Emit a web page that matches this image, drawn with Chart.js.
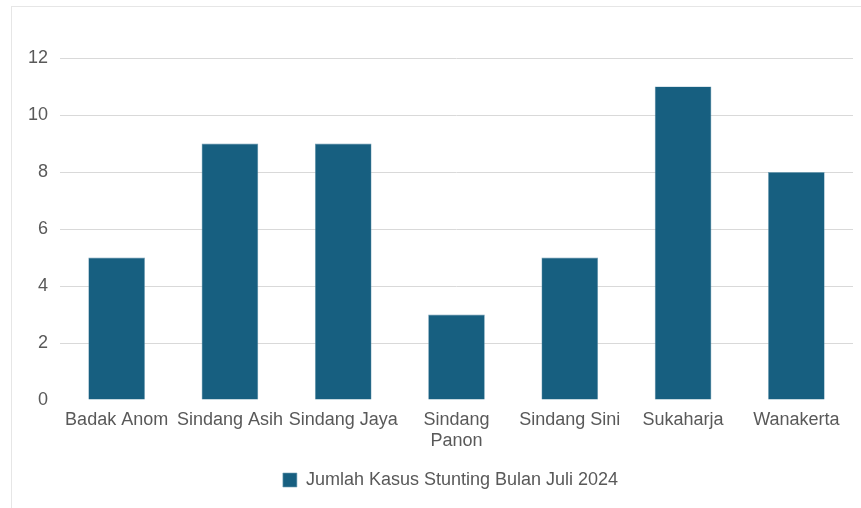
<!DOCTYPE html>
<html>
<head>
<meta charset="utf-8">
<script src="https://cdn.jsdelivr.net/npm/chart.js@4.4.0/dist/chart.umd.min.js"></script>
<style>
html,body{margin:0;padding:0;background:#fff;}
#wrap{position:absolute;left:0;top:0;width:861px;height:508px;}
#frame{position:absolute;left:11px;top:6px;width:860px;height:510px;border:1px solid #e6e6e6;box-sizing:border-box;pointer-events:none;}
canvas{display:block;}
</style>
</head>
<body>
<div id="wrap"><canvas id="c" width="861" height="508"></canvas></div>
<div id="frame"></div>
<script>
const categories = ['Badak Anom', 'Sindang Asih', 'Sindang Jaya', ['Sindang', 'Panon'], 'Sindang Sini', 'Sukaharja', 'Wanakerta'];
const seriesName = 'Jumlah Kasus Stunting Bulan Juli 2024';
const seriesValues = [5, 9, 9, 3, 5, 11, 8];
const yTicks = [0, 2, 4, 6, 8, 10, 12];

const FONT = "'Liberation Sans', Arial, sans-serif";

// centre the legend under the plot area rather than the whole canvas
const legendShift = {
  id: 'legendShift',
  afterLayout(chart) {
    const lg = chart.legend;
    if (!lg) return;
    const ca = chart.chartArea;
    const mid = (ca.left + ca.right) / 2 - 6;
    const half = (lg.right - lg.left) / 2;
    lg.left = mid - half;
    lg.right = mid + half;
  }
};

new Chart(document.getElementById('c'), {
  type: 'bar',
  data: {
    labels: categories,
    datasets: [{
      label: seriesName,
      data: seriesValues,
      backgroundColor: '#175f80',
      borderColor: '#6f9db3',
      borderWidth: 0.6,
      categoryPercentage: 1.0,
      barPercentage: 0.5
    }]
  },
  plugins: [legendShift],
  options: {
    responsive: false,
    animation: false,
    devicePixelRatio: 1,
    layout: { padding: { top: 58, right: 8, left: 0, bottom: 9 } },
    scales: {
      x: {
        grid: { display: false, drawTicks: false },
        border: { display: false },
        ticks: { color: '#595959', font: { family: FONT, size: 18, lineHeight: 1.15 }, padding: 10, maxRotation: 0, autoSkip: false }
      },
      y: {
        min: 0, max: 12,
        afterBuildTicks: (s) => { s.ticks = yTicks.map(v => ({ value: v })); },
        afterFit: (s) => { s.width = 60; },
        grid: { drawTicks: false, color: (ctx) => ctx.tick && ctx.tick.value === 0 ? 'rgba(0,0,0,0)' : '#d9d9d9', lineWidth: 1 },
        border: { display: false },
        ticks: { color: '#595959', font: { family: FONT, size: 18 }, padding: 12 }
      }
    },
    plugins: {
      legend: {
        position: 'bottom',
        labels: { color: '#595959', font: { family: FONT, size: 18 }, boxWidth: 14, boxHeight: 14, padding: 9.5 }
      },
      tooltip: { enabled: false }
    }
  }
});
</script>
</body>
</html>
